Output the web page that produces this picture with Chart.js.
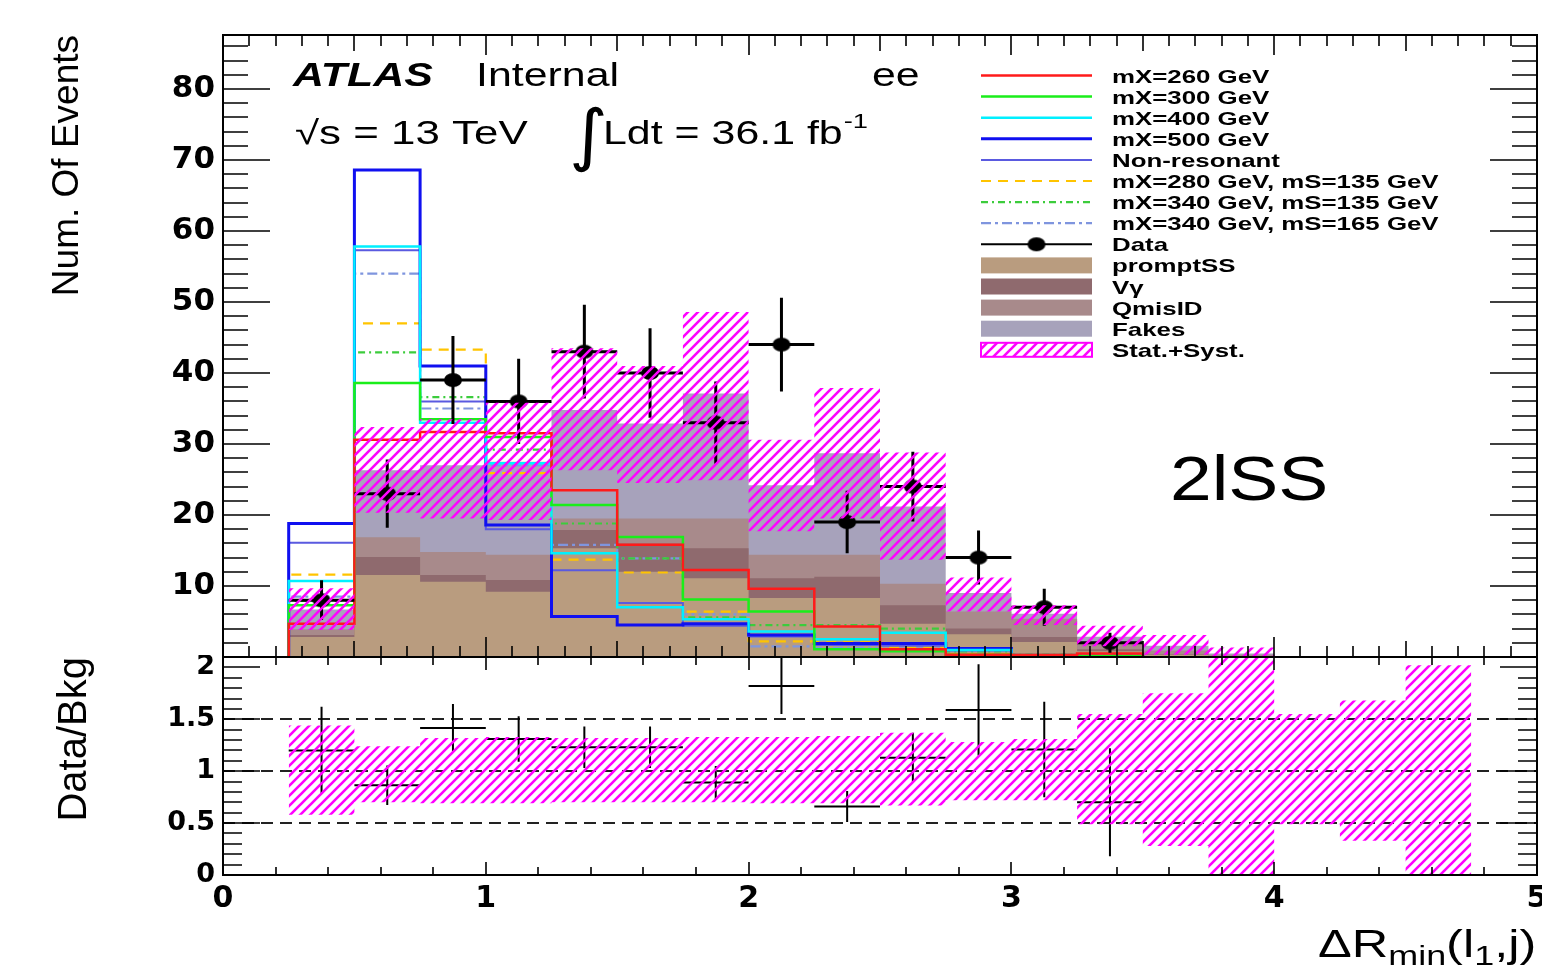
<!DOCTYPE html>
<html>
<head>
<meta charset="utf-8">
<title>2lSS ee - DeltaR min(l1,j)</title>
<script src="https://cdn.jsdelivr.net/npm/chart.js"></script>
<style>
  body { margin: 0; background: #fff; }
  #wrap { position: relative; width: 1542px; height: 966px; overflow: hidden; }
  canvas { position: absolute; left: 0; }
  #mainChart { top: 0; }
  #ratioChart { top: 655px; }
</style>
</head>
<body>
<div id="wrap">
  <canvas id="mainChart" width="1542" height="662"></canvas>
  <canvas id="ratioChart" width="1542" height="311"></canvas>
</div>
<script>
'use strict';

// bin edges of the histogram (18 bins of 0.25)
let binEdges = [0.25, 0.5, 0.75, 1, 1.25, 1.5, 1.75, 2, 2.25, 2.5, 2.75, 3, 3.25, 3.5, 3.75, 4, 4.25, 4.5, 4.75];

// backgrounds, per bin
let promptSS = [2.8, 11.55, 10.6, 9.2, 15.3, 12.0, 11.1, 8.3, 8.3, 4.7, 3.2, 2.1, 0.8, 0.3, 0.1, 0, 0, 0];
let vGamma   = [0.3, 2.55, 0.95, 1.65, 2.6, 4.0, 4.2, 2.8, 3.0, 2.6, 0.8, 0.7, 0.3, 0.1, 0.05, 0, 0, 0];
let qMisID   = [0.8, 2.75, 3.25, 3.55, 1.6, 3.5, 4.2, 3.3, 3.1, 3.0, 2.4, 2.6, 0.9, 0.5, 0.15, 0, 0, 0];
let fakes    = [2.8, 9.45, 12.2, 13.1, 15.3, 13.4, 17.6, 9.8, 14.3, 10.9, 2.6, 0.7, 0.85, 0.7, 0.2, 0, 0, 0];

// stat+syst band, main panel
let bandLow  = [3.8, 20.3, 19.5, 19.3, 26.3, 24.5, 24.9, 17.7, 19.5, 13.7, 6.4, 4.5, 1.5, 0.3, 0, 0, 0, 0];
let bandHigh = [9.7, 32.4, 33.5, 35.8, 43.5, 41.0, 48.6, 30.6, 37.9, 28.8, 11.2, 7.3, 4.4, 3.1, 1.35, 0, 0, 0];

// stat+syst band, ratio panel
let ratioBandLow  = [0.58, 0.70, 0.69, 0.69, 0.70, 0.70, 0.70, 0.69, 0.69, 0.67, 0.72, 0.72, 0.49, 0.28, 0, 0.49, 0.33, 0];
let ratioBandHigh = [1.44, 1.24, 1.32, 1.33, 1.32, 1.32, 1.33, 1.33, 1.34, 1.37, 1.28, 1.31, 1.55, 1.75, 2.2, 1.55, 1.68, 2.02];

// data (first 13 bins)
let dataCounts  = [8, 23, 39, 36, 43, 40, 33, 44, 19, 24, 14, 7, 2];
let dataErrors  = [2.8, 4.8, 6.2, 6.0, 6.6, 6.3, 5.8, 6.6, 4.4, 4.9, 3.8, 2.6, 1.4];
let ratioValues = [1.2, 0.865, 1.417, 1.31, 1.23, 1.23, 0.89, 1.82, 0.66, 1.13, 1.59, 1.21, 0.70];
let ratioErrors = [0.42, 0.19, 0.23, 0.22, 0.2, 0.2, 0.16, 0.27, 0.15, 0.24, 0.44, 0.46, 0.52];

// signals (first 13 bins)
let sigX260     = [4.7, 30.6, 31.7, 31.5, 23.5, 15.8, 12.25, 9.6, 4.3, 1.1, 0.3, 0.3, 0.5];
let sigX300     = [7.3, 38.6, 33.5, 31.0, 21.4, 16.9, 8.1, 6.4, 1.1, 0.8, 0.3, 0.2, 0.1];
let sigX400     = [10.7, 57.8, 33.0, 27.3, 14.6, 7.0, 5.3, 3.6, 2.5, 3.4, 1.0, 0.3, 0.1];
let sigX500     = [18.8, 68.6, 41.0, 18.6, 5.7, 4.5, 4.7, 3.1, 1.9, 1.9, 1.2, 0.2, 0.1];
let sigNonRes   = [16.1, 57.3, 36.0, 18.0, 12.2, 7.6, 4.4, 2.9, 1.7, 1.6, 0.9, 0.2, 0.1];
let sigX280S135 = [11.6, 47.0, 43.3, 25.9, 13.7, 11.9, 6.4, 2.2, 2.1, 1.4, 0.4, 0.3, 0.1];
let sigX340S135 = [7.9, 42.9, 36.6, 29.2, 18.8, 13.9, 5.6, 4.5, 4.5, 4.0, 0.8, 0.4, 0.2];
let sigX340S165 = [8.5, 54.0, 35.0, 27.0, 15.8, 13.9, 6.0, 1.5, 1.3, 1.2, 0.3, 0.2, 0.1];

// tick labels
let mainYLabels  = ['', '10', '20', '30', '40', '50', '60', '70', '80'];
let ratioYLabels = ['0', '0.5', '1', '1.5', '2'];
let xLabels      = ['0', '1', '2', '3', '4', '5'];

function stepPoints(vals, closed) {
    let pts = [];
    if (closed) pts.push({x: binEdges[0], y: 0});
    for (let i = 0; i < vals.length; i++) {
        pts.push({x: binEdges[i], y: vals[i]});
        pts.push({x: binEdges[i + 1], y: vals[i]});
    }
    if (closed) pts.push({x: binEdges[vals.length], y: 0});
    return pts;
}

function binCenters(n) {
    let c = [];
    for (let i = 0; i < n; i++) c.push((binEdges[i] + binEdges[i + 1]) / 2);
    return c;
}

let halfBin = (binEdges[1] - binEdges[0]) / 2;
let centers = binCenters(dataCounts.length);

let vGammaTop = promptSS.map((v, i) => v + vGamma[i]);
let qMisTop = vGammaTop.map((v, i) => v + qMisID[i]);
let fakesTop = qMisTop.map((v, i) => v + fakes[i]);

function makeHatch() {
    let c = document.createElement('canvas');
    c.width = 10;
    c.height = 10;
    let g = c.getContext('2d');
    g.strokeStyle = '#ff00ff';
    g.lineWidth = 2.6;
    g.beginPath();
    g.moveTo(-1, 11); g.lineTo(11, -1);
    g.moveTo(-6, 6); g.lineTo(6, -6);
    g.moveTo(4, 16); g.lineTo(16, 4);
    g.stroke();
    return g.createPattern(c, 'repeat');
}
let hatch = makeHatch();

let dot = document.createElement('canvas');
dot.width = 20;
dot.height = 16;
let dg = dot.getContext('2d');
dg.fillStyle = '#000';
dg.beginPath();
dg.ellipse(10, 8, 9, 7, 0, 0, 2 * Math.PI);
dg.fill();

function stretchText(ctx, str, x, y, font, sx) {
    ctx.save();
    ctx.font = font;
    ctx.textAlign = 'left';
    ctx.textBaseline = 'alphabetic';
    ctx.translate(x, y);
    ctx.scale(sx, 1);
    ctx.fillText(str, 0, 0);
    let w = ctx.measureText(str).width * sx;
    ctx.restore();
    return w;
}

// frame with inward ticks on four sides, plus optional dashed reference lines
const rootFrame = {
    id: 'rootFrame',
    beforeDatasetsDraw(chart, args, opts) {
        if (!opts.refLines) return;
        let ctx = chart.ctx, a = chart.chartArea, y = chart.scales.y;
        ctx.save();
        ctx.strokeStyle = '#222';
        ctx.lineWidth = 2;
        ctx.setLineDash([12, 7]);
        opts.refLines.forEach(v => {
            let py = Math.round(y.getPixelForValue(v));
            ctx.beginPath();
            ctx.moveTo(a.left, py);
            ctx.lineTo(a.right, py);
            ctx.stroke();
        });
        ctx.restore();
    },
    afterDraw(chart, args, opts) {
        let ctx = chart.ctx, a = chart.chartArea, x = chart.scales.x, y = chart.scales.y;
        ctx.save();
        ctx.strokeStyle = '#000';
        ctx.lineWidth = 1.6;
        ctx.beginPath();
        opts.xTicks.forEach(t => {
            let n = Math.floor((x.max - x.min) / t.step + 1e-6);
            for (let k = 0; k <= n; k++) {
                let px = Math.round(x.getPixelForValue(x.min + k * t.step));
                ctx.moveTo(px, a.bottom); ctx.lineTo(px, a.bottom - t.len);
                ctx.moveTo(px, a.top); ctx.lineTo(px, a.top + t.len);
            }
        });
        opts.yTicks.forEach(t => {
            let n = Math.floor((y.max - y.min) / t.step + 1e-6);
            for (let k = 0; k <= n; k++) {
                let py = Math.round(y.getPixelForValue(y.min + k * t.step));
                ctx.moveTo(a.left, py); ctx.lineTo(a.left + t.len, py);
                ctx.moveTo(a.right, py); ctx.lineTo(a.right - t.len, py);
            }
        });
        ctx.stroke();
        ctx.lineWidth = 2;
        ctx.strokeRect(a.left, a.top, a.right - a.left, a.bottom - a.top);
        ctx.restore();
    }
};

// error crosses for data
const errorBars = {
    id: 'errorBars',
    afterDatasetDraw(chart, args) {
        let ds = chart.data.datasets[args.index];
        if (!ds.errors) return;
        let ctx = chart.ctx, a = chart.chartArea, x = chart.scales.x, y = chart.scales.y;
        ctx.save();
        ctx.beginPath();
        ctx.rect(a.left, a.top, a.right - a.left, a.bottom - a.top);
        ctx.clip();
        ctx.strokeStyle = '#000';
        ctx.lineWidth = ds.barWidth;
        ds.data.forEach((p, i) => {
            let px = x.getPixelForValue(p.x), py = y.getPixelForValue(p.y);
            ctx.beginPath();
            ctx.moveTo(x.getPixelForValue(p.x - halfBin), py);
            ctx.lineTo(x.getPixelForValue(p.x + halfBin), py);
            ctx.moveTo(px, y.getPixelForValue(p.y - ds.errors[i]));
            ctx.lineTo(px, y.getPixelForValue(p.y + ds.errors[i]));
            ctx.stroke();
        });
        ctx.restore();
    }
};

const mainText = {
    id: 'mainText',
    afterDraw(chart) {
        let ctx = chart.ctx;
        ctx.save();
        ctx.fillStyle = '#000';
        stretchText(ctx, 'ATLAS', 293, 86, 'italic bold 33px "Liberation Sans"', 1.3);
        stretchText(ctx, 'Internal', 476, 86, '33px "Liberation Sans"', 1.3);
        stretchText(ctx, 'ee', 872, 86, '33px "Liberation Sans"', 1.3);
        stretchText(ctx, '\u221As = 13 TeV', 295, 144, '33px "Liberation Sans"', 1.33);
        stretchText(ctx, '\u222B', 569, 158, '68px "DejaVu Sans"', 1.1);
        let w = stretchText(ctx, 'Ldt = 36.1 fb', 603, 144, '33px "Liberation Sans"', 1.3);
        stretchText(ctx, '-1', 603 + w + 1, 128, '21px "Liberation Sans"', 1.3);
        stretchText(ctx, '2lSS', 1170, 500, '63px "Liberation Sans"', 1.19);

        let rows = chart.data.datasets.filter(d => d.legendRow !== undefined);
        rows.sort((p, q) => p.legendRow - q.legendRow);
        rows.forEach(d => {
            let cy = 75.5 + d.legendRow * 21.1;
            let x1 = 981, x2 = 1092;
            ctx.save();
            if (d.legendKind === 'line') {
                ctx.strokeStyle = d.borderColor;
                ctx.lineWidth = d.borderWidth;
                ctx.setLineDash(d.borderDash || []);
                ctx.beginPath();
                ctx.moveTo(x1, cy);
                ctx.lineTo(x2, cy);
                ctx.stroke();
            } else if (d.legendKind === 'data') {
                ctx.strokeStyle = '#000';
                ctx.lineWidth = 2;
                ctx.beginPath();
                ctx.moveTo(x1, cy);
                ctx.lineTo(x2, cy);
                ctx.stroke();
                ctx.drawImage(dot, (x1 + x2) / 2 - 10, cy - 8);
            } else if (d.legendKind === 'box') {
                ctx.fillStyle = d.backgroundColor;
                ctx.fillRect(x1, cy - 8, x2 - x1, 16);
            } else if (d.legendKind === 'hatch') {
                ctx.fillStyle = hatch;
                ctx.fillRect(x1, cy - 7, x2 - x1, 14);
                ctx.strokeStyle = '#ff00ff';
                ctx.lineWidth = 2;
                ctx.strokeRect(x1, cy - 7, x2 - x1, 14);
            }
            ctx.restore();
            ctx.fillStyle = '#000';
            stretchText(ctx, d.label, 1112, cy + 7, 'bold 19px "Liberation Sans"', 1.36);
        });
        ctx.restore();
    }
};

const ratioText = {
    id: 'ratioText',
    afterDraw(chart) {
        let ctx = chart.ctx;
        ctx.save();
        ctx.fillStyle = '#000';
        let big = '38px "Liberation Sans"', small = '27px "Liberation Sans"';
        let x = 1318, base = 302;
        x += stretchText(ctx, '\u0394R', x, base, big, 1.33);
        x += stretchText(ctx, 'min', x, base + 8, small, 1.33);
        x += stretchText(ctx, '(l', x, base, big, 1.33);
        x += stretchText(ctx, '1', x, base + 8, small, 1.33);
        stretchText(ctx, ',j)', x, base, big, 1.33);
        ctx.restore();
    }
};

function sigLine(label, vals, color, width, dash, row) {
    return {
        label: label,
        data: stepPoints(vals, true),
        borderColor: color,
        borderWidth: width,
        borderDash: dash,
        borderJoinStyle: 'miter',
        pointRadius: 0,
        fill: false,
        order: 2,
        legendRow: row,
        legendKind: 'line'
    };
}

function stackFill(label, vals, color, order, row) {
    return {
        label: label,
        data: stepPoints(vals, false),
        borderWidth: 0,
        backgroundColor: color,
        pointRadius: 0,
        fill: 'origin',
        order: order,
        legendRow: row,
        legendKind: 'box'
    };
}

let mainDatasets = [
    {label: 'band low', data: stepPoints(bandLow, false), borderWidth: 0, pointRadius: 0, fill: false, order: 0},
    {label: 'Stat.+Syst.', data: stepPoints(bandHigh, false), borderWidth: 0, pointRadius: 0, fill: '-1',
        backgroundColor: hatch, order: 0, legendRow: 13, legendKind: 'hatch'},
    {type: 'scatter', label: 'Data', data: centers.map((c, i) => ({x: c, y: dataCounts[i]})),
        pointStyle: dot, pointRadius: 9, errors: dataErrors, barWidth: 3, order: 1, legendRow: 8, legendKind: 'data'},
    sigLine('mX=260 GeV', sigX260, '#ff1a1a', 2.5, [], 0),
    sigLine('mX=300 GeV', sigX300, '#1aee1a', 2.5, [], 1),
    sigLine('mX=400 GeV', sigX400, '#00f0ff', 2.5, [], 2),
    sigLine('mX=500 GeV', sigX500, '#1010f0', 3, [], 3),
    sigLine('Non-resonant', sigNonRes, '#5a5ae0', 2, [], 4),
    sigLine('mX=280 GeV, mS=135 GeV', sigX280S135, '#ffc400', 2.2, [10, 7], 5),
    sigLine('mX=340 GeV, mS=135 GeV', sigX340S135, '#3ccc3c', 2.2, [7, 4, 2, 4], 6),
    sigLine('mX=340 GeV, mS=165 GeV', sigX340S165, '#7f95de', 2.2, [10, 4, 3, 4], 7),
    stackFill('promptSS', promptSS, '#b99c7f', 3, 9),
    stackFill('V\u03B3', vGammaTop, '#8f6a6e', 4, 10),
    stackFill('QmisID', qMisTop, '#a88a8b', 5, 11),
    stackFill('Fakes', fakesTop, '#a7a2bb', 6, 12)
];

let tickFont = {family: 'DejaVu Sans', weight: 'bold', size: 31};

let mainChart = new Chart(document.getElementById('mainChart'), {
    type: 'line',
    data: {datasets: mainDatasets},
    options: {
        responsive: false,
        animation: false,
        devicePixelRatio: 1,
        layout: {padding: {left: 0, right: 5, top: 35, bottom: 5}, autoPadding: false},
        plugins: {
            legend: {display: false},
            tooltip: {enabled: false},
            rootFrame: {
                xTicks: [{step: 0.1, len: 11}, {step: 0.5, len: 16}, {step: 1, len: 20}],
                yTicks: [{step: 2, len: 25}, {step: 10, len: 47}]
            }
        },
        scales: {
            x: {type: 'linear', min: 0, max: 5, display: false},
            y: {
                type: 'linear', min: 0, max: 87.6,
                grid: {display: false, drawTicks: false}, border: {display: false},
                ticks: {stepSize: 10, includeBounds: false, padding: 8, color: '#000', font: tickFont,
                    callback: v => mainYLabels[Math.round(v / 10)]},
                title: {display: true, text: 'Num. Of Events', align: 'end', color: '#000',
                    font: {family: 'Liberation Sans', size: 37}, padding: {top: 46, bottom: 0}},
                afterFit: s => { s.width = 223; s.paddingTop = 0; s.paddingBottom = 0; }
            }
        }
    },
    plugins: [rootFrame, errorBars, mainText]
});

let ratioDatasets = [
    {label: 'ratio band low', data: stepPoints(ratioBandLow, false), borderWidth: 0, pointRadius: 0, fill: false, order: 0},
    {label: 'ratio band', data: stepPoints(ratioBandHigh, false), borderWidth: 0, pointRadius: 0, fill: '-1',
        backgroundColor: hatch, order: 0},
    {type: 'scatter', label: 'Data/Bkg', data: centers.map((c, i) => ({x: c, y: ratioValues[i]})),
        pointRadius: 0, errors: ratioErrors, barWidth: 2, order: 1}
];

let ratioChart = new Chart(document.getElementById('ratioChart'), {
    type: 'line',
    data: {datasets: ratioDatasets},
    options: {
        responsive: false,
        animation: false,
        devicePixelRatio: 1,
        layout: {padding: {left: 0, right: 5, top: 2, bottom: 0}, autoPadding: false},
        plugins: {
            legend: {display: false},
            tooltip: {enabled: false},
            rootFrame: {
                refLines: [0.5, 1, 1.5],
                xTicks: [{step: 0.2, len: 8}, {step: 1, len: 13}],
                yTicks: [{step: 0.1, len: 19}, {step: 0.5, len: 37}]
            }
        },
        scales: {
            x: {
                type: 'linear', min: 0, max: 5,
                grid: {display: false, drawTicks: false}, border: {display: false},
                ticks: {stepSize: 1, padding: 6, maxRotation: 0, autoSkip: false, color: '#000',
                    font: {family: 'DejaVu Sans', weight: 'bold', size: 30},
                    callback: v => xLabels[Math.round(v)]},
                afterFit: s => { s.height = 91; s.paddingLeft = 0; s.paddingRight = 0; }
            },
            y: {
                type: 'linear', min: 0, max: 2.1,
                grid: {display: false, drawTicks: false}, border: {display: false},
                ticks: {stepSize: 0.5, includeBounds: false, padding: 8, color: '#000',
                    font: {family: 'DejaVu Sans', weight: 'bold', size: 27},
                    callback: v => ratioYLabels[Math.round(v * 2)]},
                title: {display: true, text: 'Data/Bkg', align: 'end', color: '#000',
                    font: {family: 'Liberation Sans', size: 40}, padding: {top: 51, bottom: 0}},
                afterFit: s => { s.width = 223; s.paddingTop = 0; s.paddingBottom = 0; }
            }
        }
    },
    plugins: [rootFrame, errorBars, ratioText]
});
</script>
</body>
</html>
